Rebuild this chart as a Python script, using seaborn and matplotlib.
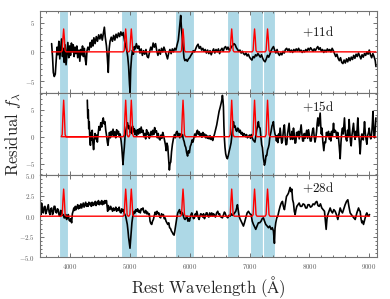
import numpy as np
import matplotlib
matplotlib.use("Agg")
import matplotlib.pyplot as plt
from matplotlib.ticker import MultipleLocator, AutoMinorLocator
import seaborn as sns

# ------------------- data -------------------
# +11d residual
wl_11 = [3694, 3710, 3722, 3738, 3755, 3770, 3785, 3800, 3815, 3830, 3845, 3860, 3875, 3890,
         3905, 3920, 3935, 3950, 3965, 3980, 3995, 4010, 4025, 4040, 4055, 4070, 4085, 4100,
         4115, 4130, 4150, 4165, 4180, 4195, 4210, 4225, 4240, 4255, 4270, 4285, 4300, 4320,
         4340, 4355, 4370, 4385, 4400, 4420, 4440, 4460, 4480, 4500, 4520, 4540, 4560, 4575,
         4590, 4610, 4625, 4640, 4655, 4670, 4690, 4710, 4730, 4750, 4770, 4790, 4810, 4830,
         4850, 4870, 4890, 4910, 4930, 4950, 4965, 4980, 4995, 5005, 5015, 5030, 5045, 5060,
         5075, 5090, 5110, 5130, 5150, 5170, 5190, 5210, 5230, 5250, 5270, 5290, 5310, 5330,
         5350, 5370, 5390, 5410, 5430, 5450, 5470, 5490, 5510, 5530, 5550, 5570, 5590, 5610,
         5630, 5650, 5670, 5690, 5710, 5730, 5750, 5770, 5790, 5810, 5825, 5840, 5850, 5860,
         5875, 5890, 5905, 5920, 5940, 5960, 5980, 6000, 6020, 6040, 6060, 6080, 6100, 6120,
         6140, 6160, 6180, 6200, 6220, 6240, 6260, 6280, 6300, 6320, 6340, 6360, 6380, 6400,
         6420, 6440, 6460, 6480, 6500, 6520, 6540, 6560, 6580, 6600, 6620, 6640, 6660, 6680,
         6700, 6720, 6740, 6760, 6780, 6800, 6820, 6840, 6860, 6880, 6900, 6920, 6940, 6960,
         6980, 7000, 7020, 7040, 7060, 7080, 7100, 7120, 7140, 7160, 7180, 7200, 7220, 7240,
         7260, 7280, 7300, 7320, 7340, 7360, 7380, 7400, 7420, 7440, 7460, 7480, 7500, 7520,
         7540, 7560, 7580, 7600, 7620, 7640, 7660, 7680, 7700, 7720, 7740, 7760, 7780, 7800,
         7820, 7840, 7860, 7880, 7900, 7920, 7940, 7960, 7980, 8000, 8020, 8040, 8060, 8080,
         8100, 8120, 8140, 8160, 8180, 8200, 8220, 8240, 8260, 8280, 8300, 8320, 8340, 8360,
         8380, 8400, 8420, 8440, 8460, 8480, 8500, 8520, 8540, 8560, 8580, 8600, 8620, 8640,
         8660, 8680, 8700, 8720, 8740, 8760, 8780, 8800, 8820, 8840, 8860, 8880, 8900, 8920,
         8940, 8960, 8980, 9000, 9020, 9040, 9060, 9080, 9100, 9112]
res_11 = [1.4, -1.0, -3.5, -4.2, -3.8, -1.5, 0.8, -0.5, 1.8, -1.2, 0.5, 2.2, -0.8, 0.6,
          -1.8, 1.2, -2.2, -0.3, 1.6, -1.0, 1.0, -0.6, 1.5, 0.0, 1.2, -0.8, 0.8, -0.3,
          1.0, -1.0, 0.3, -1.6, 0.4, -0.5, 1.0, -0.8, 0.6, -1.2, -2.2, 0.2, 0.8, 0.3,
          1.6, 0.8, 2.0, 1.0, 2.4, 1.4, 2.6, 1.8, 2.9, 2.2, 3.0, 2.0, 3.2, 4.2,
          2.5, 1.0, -1.0, -3.5, 0.5, 1.8, 2.5, 1.8, 2.8, 2.0, 3.0, 2.4, 3.2, 2.6,
          3.4, 2.8, 3.3, 2.0, 1.0, 0.2, -0.8, -2.5, -5.5, -7.0, -3.0, -0.8, 0.3, -0.4,
          0.9, 0.5, 1.4, 0.6, 1.0, -0.2, 0.5, -0.6, 0.2, -0.4, 0.4, -0.8, -1.0, 0.0,
          0.8, 0.3, 1.5, 0.8, 1.4, 0.2, -0.6, 0.4, -0.4, 0.6, 0.0, 0.8, 0.2, -0.5,
          -1.2, -0.2, 0.4, -0.3, 0.5, 0.0, 0.6, 0.3, 1.2, 2.0, 3.5, 5.2, 6.2, 4.5,
          2.5, 0.8, -1.0, -1.5, -1.3, -1.6, -1.2, -1.0, -0.6, -0.3, 0.2, 0.0, 0.5, 1.0,
          1.3, 0.6, 0.9, 0.3, 0.6, 0.1, 0.4, -0.2, 0.3, -0.3, 0.2, -0.5, 0.1, 0.5,
          -0.2, 0.4, 0.0, 0.5, -0.3, 0.3, 0.6, 0.1, 0.7, 0.9, 0.4, 0.8, 0.3, 0.5,
          0.9, 1.1, 1.4, 1.2, 0.7, 0.4, 0.1, 0.3, -0.2, 0.1, -0.3, -0.5, -0.2, -0.7,
          -0.4, -0.9, -1.2, -1.4, -0.8, -1.0, -0.5, -0.7, -0.3, -0.6, -0.9, -0.5, -1.1, -1.5,
          -1.7, -1.2, -0.6, -0.9, -0.4, 0.2, 0.6, 0.9, 0.3, -0.2, 0.4, -0.3, -0.6, -0.2,
          -0.5, 0.1, -0.2, 0.4, 0.6, 0.2, 0.5, 0.0, 0.3, -0.1, 0.4, 0.1, 0.5, 0.2,
          0.6, 0.1, 0.3, -0.1, 0.2, 0.0, 0.4, 0.1, 0.6, 0.3, 0.7, 0.4, 0.1, 0.5,
          0.2, 0.6, 0.9, 0.4, 0.7, 0.1, 0.4, -0.1, 0.3, 0.0, 0.5, 0.2, 0.4, 0.0,
          0.6, 0.2, -0.3, -0.8, -0.4, -1.1, -1.5, -1.0, -1.8, -2.0, -1.4, -1.9, -1.2, -1.7,
          -1.0, -1.5, -0.9, -1.3, -0.6, -1.1, -0.4, -0.8, -0.2, -0.7, -1.2, -0.5, -0.9, -0.3,
          -0.6, 0.0, -0.4, 0.3, -0.5, -1.0, -0.3, -0.8, -1.5, -2.5]

# +15d residual
wl_15 = [4290, 4298, 4306, 4314, 4322, 4332, 4342, 4352, 4362, 4372, 4382, 4395, 4408, 4420,
         4432, 4445, 4458, 4470, 4485, 4500, 4515, 4530, 4545, 4557, 4570, 4585, 4598, 4612,
         4625, 4635, 4648, 4660, 4675, 4690, 4705, 4720, 4735, 4750, 4765, 4780, 4795, 4810,
         4825, 4840, 4855, 4866, 4878, 4886, 4896, 4908, 4920, 4932, 4945, 4962, 4978, 4992,
         5005, 5020, 5035, 5045, 5060, 5075, 5088, 5100, 5115, 5130, 5145, 5160, 5175, 5190,
         5205, 5220, 5235, 5250, 5265, 5280, 5295, 5310, 5325, 5340, 5355, 5370, 5385, 5400,
         5415, 5430, 5445, 5460, 5475, 5490, 5505, 5520, 5535, 5550, 5565, 5580, 5595, 5608,
         5620, 5634, 5648, 5661, 5672, 5684, 5697, 5712, 5728, 5745, 5760, 5775, 5790, 5805,
         5820, 5835, 5850, 5865, 5880, 5895, 5908, 5920, 5935, 5950, 5965, 5980, 5995, 6010,
         6025, 6040, 6055, 6070, 6085, 6100, 6115, 6130, 6145, 6160, 6175, 6190, 6205, 6220,
         6235, 6250, 6265, 6280, 6295, 6310, 6325, 6340, 6355, 6370, 6385, 6400, 6413, 6430,
         6452, 6470, 6491, 6508, 6525, 6540, 6547, 6556, 6564, 6572, 6580, 6590, 6602, 6615,
         6630, 6645, 6658, 6675, 6692, 6710, 6731, 6745, 6759, 6773, 6787, 6801, 6815, 6830,
         6845, 6860, 6875, 6890, 6905, 6920, 6935, 6950, 6965, 6982, 7000, 7015, 7030, 7045,
         7060, 7075, 7090, 7105, 7120, 7135, 7148, 7160, 7176, 7190, 7203, 7215, 7230, 7249,
         7262, 7275, 7288, 7300, 7315, 7327, 7340, 7360, 7375, 7390, 7399, 7410, 7425, 7438,
         7450, 7462, 7472, 7485, 7498, 7511, 7525, 7537, 7550, 7563, 7575, 7583, 7595, 7608,
         7622, 7635, 7648, 7661, 7673, 7685, 7695, 7708, 7720, 7734, 7747, 7760, 7773, 7787,
         7800, 7817, 7830, 7845, 7862, 7875, 7888, 7901, 7915, 7928, 7940, 7955, 7970, 7985,
         8000, 8015, 8030, 8045, 8058, 8068, 8080, 8093, 8107, 8120, 8130, 8141, 8155, 8165,
         8180, 8190, 8200, 8210, 8225, 8241, 8255, 8270, 8285, 8300, 8319, 8335, 8350, 8358,
         8370, 8385, 8403, 8415, 8428, 8442, 8458, 8472, 8486, 8500, 8514, 8528, 8540, 8553,
         8565, 8578, 8586, 8598, 8612, 8625, 8638, 8650, 8664, 8675, 8687, 8698, 8710, 8725,
         8737, 8750, 8763, 8776, 8790, 8800, 8809, 8820, 8835, 8848, 8860, 8875, 8888, 8900,
         8912, 8921, 8933, 8947, 8960, 8973, 8988, 8999, 9012, 9025, 9033, 9045, 9055, 9061,
         9070, 9080, 9089, 9100, 9111]
res_15 = [6.8, 3.5, 5.0, 1.5, 2.8, -0.5, -1.6, 0.8, -0.6, 1.2, -1.0, -2.4, -0.5, 0.6,
          -0.4, 0.3, -1.0, 0.5, 1.9, 1.2, 2.6, 1.8, 3.0, 3.5, 2.4, 2.8, 1.2, 0.2,
          -1.0, -1.6, -0.3, 0.8, -0.2, 1.0, 0.3, 1.4, 0.2, 0.9, -0.2, 1.3, 0.5, 1.0,
          0.0, 0.5, -0.8, -2.0, -4.0, -5.2, -3.5, -2.0, 0.0, 1.0, 1.8, 2.6, 1.5, 2.0,
          0.8, 1.6, 0.6, 2.0, 0.9, 1.5, 0.4, 1.2, 0.2, 1.3, 0.5, 1.5, 0.7, 1.8,
          0.8, 1.2, 0.0, 0.6, -0.4, 1.3, 0.4, 0.8, -0.3, 0.2, 1.0, 0.3, 1.2, 0.4,
          1.7, 0.8, 1.1, -0.2, 0.6, -0.4, -0.6, 0.3, -0.3, 0.8, 0.2, -0.6, -1.5, -2.6,
          -1.2, -1.8, -4.0, -6.2, -5.0, -4.7, -2.8, -1.4, -0.4, 0.4, -0.2, 0.8, 1.0, 0.2,
          0.6, -0.2, 0.5, 0.0, 0.4, -0.5, -0.9, -1.6, -2.0, -3.0, -3.6, -2.6, -3.0, -1.8,
          -1.4, -0.6, -1.0, -0.2, 0.5, 0.0, 0.8, 1.2, 0.4, 0.9, 0.2, 0.6, -0.1, 0.8,
          0.2, 0.5, -0.2, 0.3, -0.3, 0.1, -0.4, 0.2, -0.5, -0.2, -0.7, 0.0, 0.4, 1.2,
          2.2, 3.4, 4.7, 5.4, 6.2, 7.0, 7.7, 6.8, 5.6, 2.0, -0.3, -2.0, -3.2, -3.8,
          -4.1, -3.5, -2.8, -2.0, -1.1, 0.8, 2.8, 1.8, 2.0, 1.2, 1.0, 1.6, 1.5, 0.8,
          1.2, 0.5, 0.8, 0.2, 0.6, 0.4, 0.0, 0.4, -0.2, 0.0, 0.3, -0.3, 0.4, -0.2,
          -0.6, -0.8, -1.0, 0.2, 1.3, 2.0, 2.8, 1.8, 1.6, 0.0, -1.5, -2.0, -3.8, -5.3,
          -4.8, -3.5, -3.5, -2.5, -2.0, -1.4, 0.0, 1.0, 2.0, 2.4, 2.8, 1.5, 0.5, 0.1,
          -0.8, 0.2, -1.1, 0.5, -0.2, 1.6, 0.0, -1.2, -0.8, 0.8, 2.0, 2.2, 0.0, -1.5,
          -1.4, 0.5, 1.5, 2.5, 0.5, -0.5, -0.2, 1.0, -0.5, 1.6, 0.5, -1.2, -1.1, 0.8,
          0.2, 1.0, -0.4, 0.8, 2.2, 0.5, -0.8, -0.8, 0.6, -0.3, 0.4, 1.2, -0.3, 1.3,
          0.2, -0.8, -0.8, 0.6, 1.5, 1.6, 0.0, -1.0, -0.2, 1.0, 2.5, 3.5, 2.0, 3.0,
          4.4, 2.0, 0.5, 1.6, -1.0, -2.6, -1.0, -1.1, 0.8, 0.2, 1.0, -0.5, 0.6, -0.8,
          1.0, 0.2, 2.5, 0.8, 1.2, 1.0, -0.3, 0.8, -0.2, -2.0, -4.1, -1.0, 0.8, 1.6,
          0.5, 2.5, 3.5, 1.0, -0.5, -0.8, 1.2, 0.0, 3.2, 1.0, -1.0, -1.7, 0.2, 1.5,
          2.5, 0.5, -0.5, 1.0, 0.0, 2.0, 3.5, 1.0, -1.0, -3.2, -1.0, 0.5, 0.4, -0.6,
          1.5, 2.8, 0.8, -0.5, -1.4, 0.2, 0.8, 1.6, 0.2, -0.4, -0.2, 1.2, 3.0, 4.7,
          2.5, 0.0, -0.2, 1.5, 3.5]

# +28d residual
wl_28 = [3500, 3515, 3526, 3540, 3554, 3568, 3582, 3596, 3610, 3624, 3638, 3652, 3666, 3680,
         3694, 3708, 3721, 3735, 3749, 3763, 3777, 3791, 3805, 3819, 3833, 3847, 3861, 3875,
         3889, 3903, 3917, 3931, 3945, 3959, 3973, 3987, 4000, 4015, 4028, 4040, 4052, 4065,
         4078, 4090, 4103, 4116, 4130, 4143, 4156, 4170, 4183, 4196, 4210, 4223, 4236, 4250,
         4263, 4276, 4290, 4303, 4316, 4330, 4343, 4356, 4370, 4383, 4396, 4410, 4423, 4436,
         4450, 4463, 4476, 4490, 4503, 4516, 4530, 4543, 4556, 4570, 4583, 4596, 4610, 4620,
         4630, 4640, 4652, 4665, 4680, 4697, 4712, 4725, 4740, 4752, 4766, 4780, 4795, 4808,
         4822, 4838, 4853, 4866, 4880, 4892, 4905, 4918, 4931, 4945, 4958, 4970, 4980, 4990,
         5003, 5012, 5022, 5035, 5048, 5060, 5074, 5087, 5100, 5115, 5130, 5145, 5160, 5175,
         5190, 5205, 5220, 5235, 5250, 5265, 5280, 5295, 5310, 5325, 5338, 5352, 5366, 5380,
         5394, 5410, 5425, 5440, 5455, 5470, 5485, 5500, 5515, 5530, 5545, 5561, 5575, 5590,
         5605, 5620, 5634, 5650, 5665, 5680, 5695, 5712, 5725, 5740, 5752, 5768, 5785, 5801,
         5815, 5830, 5845, 5860, 5879, 5895, 5910, 5923, 5940, 5955, 5970, 5985, 5996, 6010,
         6022, 6035, 6050, 6065, 6080, 6095, 6108, 6119, 6132, 6145, 6158, 6170, 6185, 6202,
         6218, 6232, 6247, 6262, 6277, 6291, 6305, 6320, 6335, 6350, 6369, 6385, 6400, 6413,
         6430, 6450, 6469, 6485, 6500, 6508, 6525, 6547, 6565, 6580, 6591, 6610, 6625, 6636,
         6655, 6675, 6690, 6710, 6731, 6750, 6770, 6785, 6798, 6812, 6826, 6840, 6859, 6878,
         6898, 6915, 6937, 6960, 6982, 7005, 7026, 7045, 7065, 7085, 7104, 7125, 7148, 7170,
         7193, 7212, 7232, 7250, 7271, 7295, 7316, 7338, 7360, 7380, 7399, 7408, 7416, 7426,
         7438, 7455, 7472, 7490, 7511, 7530, 7550, 7565, 7583, 7600, 7617, 7635, 7650, 7665,
         7678, 7692, 7706, 7720, 7734, 7748, 7762, 7776, 7790, 7810, 7829, 7850, 7873, 7895,
         7918, 7938, 7957, 7976, 7996, 8018, 8040, 8062, 8085, 8105, 8124, 8143, 8163, 8185,
         8207, 8230, 8252, 8266, 8280, 8294, 8308, 8328, 8347, 8366, 8386, 8408, 8430, 8452,
         8475, 8495, 8514, 8534, 8553, 8575, 8597, 8620, 8642, 8660, 8681, 8700, 8720, 8742,
         8765, 8793, 8821, 8835, 8848, 8862, 8876, 8890, 8904, 8918, 8932, 8946, 8960, 8975,
         8988, 9005]
res_28 = [0.8, 0.2, 1.6, 0.6, 0.4, 1.1, 1.2, 0.3, 0.6, 1.0, 1.4, 0.5, 0.2, 0.9,
          1.0, 0.2, 0.4, 1.2, 1.2, 0.5, 0.4, 0.9, 0.8, 0.1, 0.0, 0.7, 0.6, 0.1,
          0.2, -0.2, -0.2, 0.2, -0.4, 0.0, 0.2, -0.5, -0.6, -0.3, -0.8, 0.3, 0.6, 1.0,
          0.7, 1.2, 0.8, 1.1, 1.4, 0.9, 1.3, 1.0, 1.5, 1.0, 1.3, 1.6, 1.1, 1.4,
          1.7, 1.2, 1.5, 1.2, 1.7, 1.4, 1.6, 1.2, 1.7, 1.3, 1.6, 1.4, 1.8, 1.3,
          1.7, 1.5, 1.9, 1.4, 1.7, 1.5, 1.9, 1.4, 1.8, 1.5, 1.9, 1.6, 1.9, 1.2,
          0.6, 1.3, 1.0, 0.8, 1.2, 0.9, 0.6, 1.0, 0.7, 0.8, 1.1, 0.6, 0.9, 0.7,
          1.1, 0.5, 0.4, 0.9, 0.6, 0.8, 0.4, 0.2, 0.0, -0.5, -1.0, -1.8, -2.6, -3.2,
          -3.9, -3.0, -2.0, -0.8, -0.1, 0.2, 0.6, 0.4, 0.8, 0.6, 0.9, 0.5, 0.7, 0.4,
          0.9, 0.8, 1.0, 0.5, 0.4, 0.7, 0.3, 0.5, 0.2, 0.3, -0.6, -0.9, -1.0, -0.6,
          -0.4, 0.1, 0.5, 0.2, 0.6, 0.3, 0.4, -0.1, -0.2, 0.3, 0.1, 0.2, -0.3, -0.2,
          -0.6, -0.8, -1.0, -0.8, -1.4, -1.5, -1.8, -2.0, -2.2, -2.3, -1.8, -1.0, -0.2, 0.4,
          0.6, 0.8, 0.3, 0.5, 0.4, 0.0, -0.3, -0.4, -0.2, 0.0, -0.6, -0.3, -0.6, -0.2,
          0.2, 0.4, 0.0, -0.3, -0.2, 0.3, 0.0, 0.6, 0.2, -0.2, -0.4, 0.0, 0.3, 0.2,
          -0.1, 0.3, -0.3, 0.0, 0.4, 0.4, 0.0, -0.1, 0.4, 0.0, 0.4, 0.0, 0.3, 0.1,
          -0.1, 0.4, 0.6, 0.2, 0.3, 0.0, -0.1, -0.2, 0.2, 0.5, 0.4, 0.0, -0.1, -0.2,
          0.1, 0.0, 0.3, 0.1, 0.2, 0.4, 0.6, 1.0, 1.4, 0.7, 0.0, -0.3, -0.6, -0.9,
          -1.2, -0.8, -0.2, 0.4, 0.6, 0.3, 0.2, -0.6, -1.0, -1.3, -1.6, -1.2, -0.8, -0.8,
          -0.6, -0.3, -0.2, -0.6, -1.0, -1.2, -1.4, -1.2, -1.6, -1.4, -1.8, -2.6, -3.3, -1.5,
          -0.8, -0.2, 0.0, 0.6, 1.2, 1.6, 1.8, 1.2, 0.8, 1.6, 2.4, 2.6, 2.8, 3.2,
          3.5, 3.0, 3.3, 2.0, 1.6, 0.6, 0.2, 0.8, 1.2, 1.4, 1.6, 1.2, 1.2, 1.5,
          1.4, 1.0, 1.0, 1.4, 1.4, 1.1, 1.2, 1.5, 1.4, 1.7, 1.8, 1.3, 1.2, 1.5,
          1.0, 0.8, 0.6, -0.5, -1.6, -0.3, 0.2, 0.6, 1.0, 0.6, 0.4, 0.8, 0.6, 0.2,
          -0.4, 0.3, 1.0, 0.6, 0.4, 0.9, 1.4, 1.8, 2.0, 1.2, 0.4, 0.2, 0.0, -0.2,
          -0.4, 0.4, 1.0, 0.7, 0.6, -0.3, -0.8, -0.6, -1.0, -0.6, -0.2, 0.2, 0.4, 0.1,
          0.0, 0.2]

# He I line positions (as plotted) and model peak heights per epoch
he_lines = [3895, 4931, 5025, 5889, 6702, 7084, 7301]
peak_11, peak_15, peak_28 = 3.9, 6.8, 3.3
# shape of one model line (offset in A, fraction of peak)
spike_dx = [-40, -24, -12, 0, 12, 24, 40]
spike_frac = [0.0, 0.06, 0.6, 1.0, 0.6, 0.06, 0.0]
model_range = {"+11d": (3694, 9112), "+15d": (4290, 9112), "+28d": (3500, 9005)}

# shaded regions (A)
bands = [(3816, 3970), (4853, 5117), (5762, 6065), (6630, 6827), (7010, 7219), (7219, 7428)]


def model_curve(lo, hi, peak):
    x, y = [lo], [0.0]
    for c in he_lines:
        for dx, fr in zip(spike_dx, spike_frac):
            x.append(c + dx)
            y.append(fr * peak)
    x.append(hi)
    y.append(0.0)
    return x, y


# ------------------- style -------------------
sns.set_style("ticks")
plt.rcParams["font.family"] = ["serif"]
plt.rcParams["font.serif"] = ["cmr10", "DejaVu Serif"]
plt.rcParams["mathtext.fontset"] = "cm"
plt.rcParams["axes.formatter.use_mathtext"] = True
plt.rcParams["axes.unicode_minus"] = True

fig, axes = plt.subplots(3, 1, figsize=(3.9, 2.99), dpi=100, sharex=True,
                         gridspec_kw={"hspace": 0})
fig.subplots_adjust(left=0.1026, right=0.966, top=0.964, bottom=0.1395)

panels = [("+11d", wl_11, res_11, peak_11, (-7, 7), 0.745),
          ("+15d", wl_15, res_15, peak_15, (-7.15, 8.15), 0.83),
          ("+28d", wl_28, res_28, peak_28, (-5, 5), 0.84)]

for ax, (lab, wl, res, pk, ylim, ty) in zip(axes, panels):
    for lo, hi in bands:
        ax.axvspan(lo, hi, facecolor="#add8e6", edgecolor="white", lw=0.8, zorder=0)
    sns.lineplot(x=wl, y=res, ax=ax, color="black", lw=1.2, sort=False,
                 estimator=None, zorder=2)
    mx, my = model_curve(*model_range[lab], pk)
    sns.lineplot(x=mx, y=my, ax=ax, color="red", lw=1.0, sort=False,
                 estimator=None, zorder=3)
    ax.set_ylim(*ylim)
    ax.set_xlim(3500, 9125)
    ax.text(0.826, ty, r"$\mathrm{+" + lab[1:-1] + r"d}$", transform=ax.transAxes,
            ha="center", va="center", fontsize=9.5, color="#111111")
    ax.set_ylabel("")
    ax.xaxis.set_major_locator(MultipleLocator(1000))
    ax.xaxis.set_minor_locator(MultipleLocator(200))
    ax.tick_params(which="both", direction="in", top=True, right=True,
                   labelsize=5, colors="0.35", width=0.6)
    ax.tick_params(which="major", length=3)
    ax.tick_params(which="minor", length=1.6)
    for s in ax.spines.values():
        s.set_color("0.45")
        s.set_linewidth(0.8)

axes[0].yaxis.set_major_locator(MultipleLocator(5))
axes[0].yaxis.set_minor_locator(MultipleLocator(1))
axes[1].yaxis.set_major_locator(MultipleLocator(5))
axes[1].yaxis.set_minor_locator(MultipleLocator(1))
axes[2].yaxis.set_major_locator(MultipleLocator(2.5))
axes[2].yaxis.set_minor_locator(MultipleLocator(0.5))

axes[2].set_xlabel(r"$\mathrm{Rest\ Wavelength\ (\AA)}$", fontsize=12, labelpad=2)
fig.text(0.035, 0.55, r"$\mathrm{Residual}\ f_\lambda$", rotation=90,
         ha="center", va="center", fontsize=12)

fig.savefig("out.png", dpi=100)
